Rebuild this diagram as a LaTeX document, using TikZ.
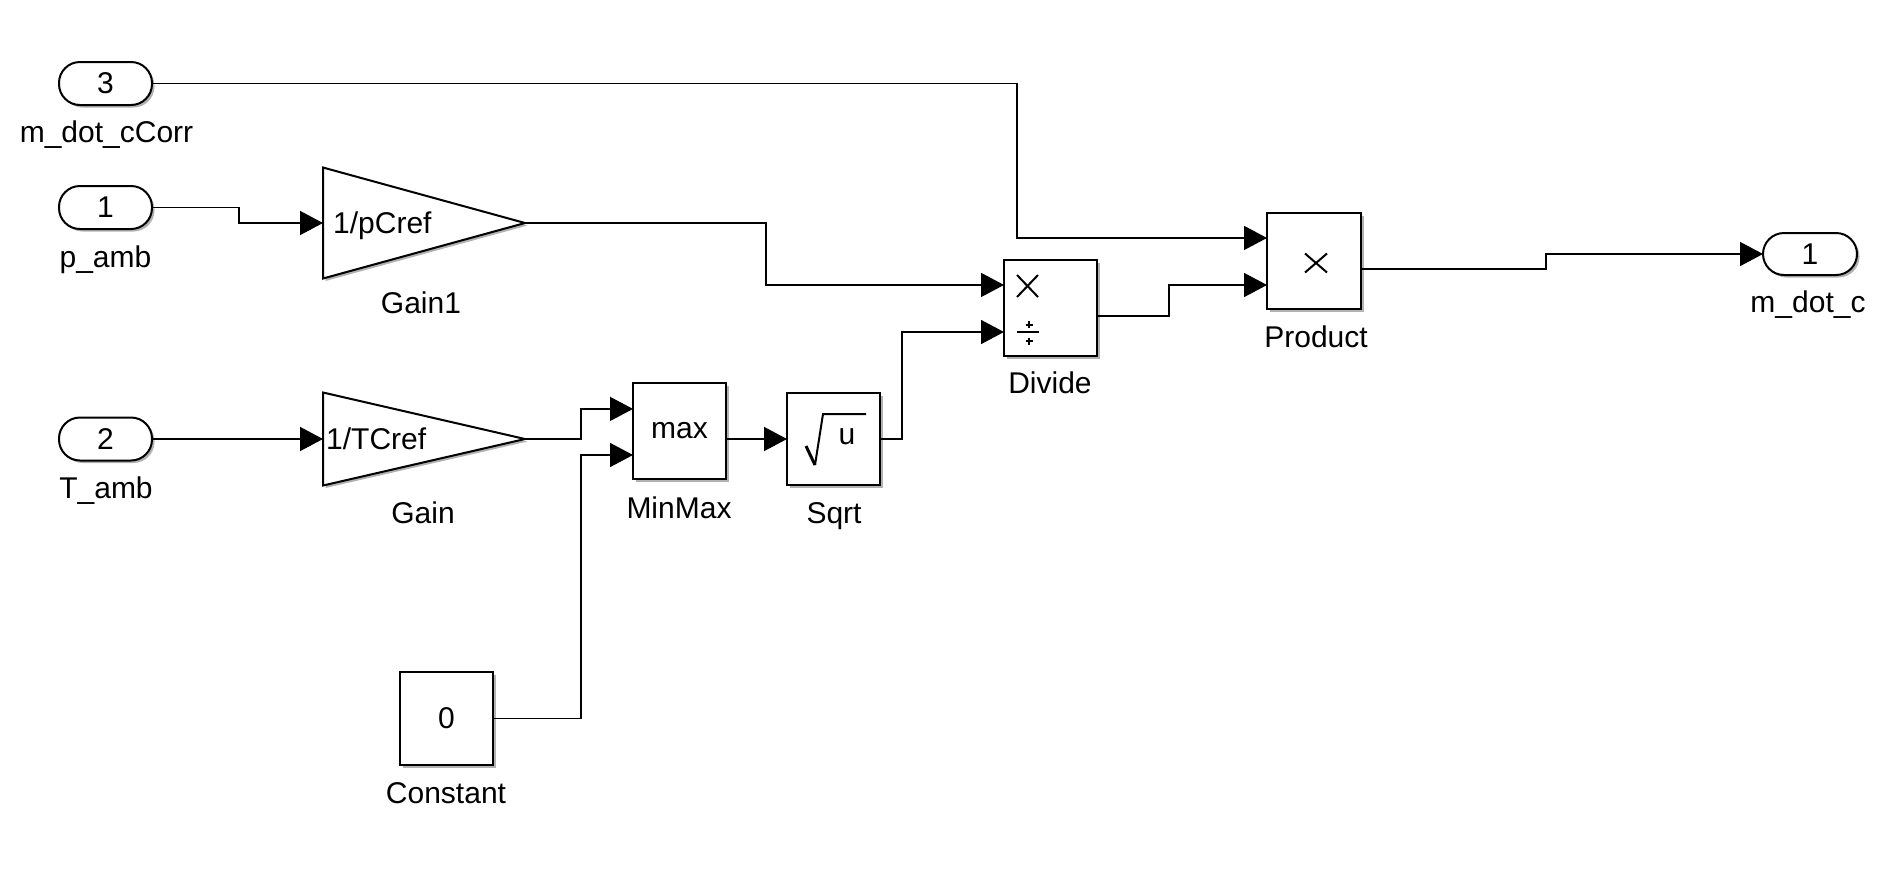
\documentclass[tikz,border=0pt]{standalone}
\usepackage{fontspec}
\setmainfont{Liberation Sans}
\usetikzlibrary{arrows.meta,shapes.geometric,shadows,calc}
\begin{document}
\begin{tikzpicture}[x=1pt,y=-1pt,
  font=\fontsize{30}{35}\selectfont,
  blk/.style={draw,line width=2pt,fill=white,inner sep=0pt,outer sep=0pt,
    drop shadow={shadow xshift=2.5pt,shadow yshift=-2.5pt,opacity=0.3,fill=black}},
  port/.style={blk,rectangle,rounded corners=21pt,minimum width=93pt,minimum height=43pt},
  sq/.style 2 args={blk,rectangle,minimum width=#1,minimum height=#2},
  gainblk/.style={blk,isosceles triangle,isosceles triangle stretches,
    shape border rotate=0,minimum width=#1,minimum height=202pt,anchor=west},
  txt/.style={inner sep=0pt,anchor=base},
  wire/.style={line width=1.6pt},
  sig/.style={wire,-{Triangle[length=23pt,width=24pt]}},
  glyph/.style={line width=2pt},
]
% canvas
\fill[white] (0,0) rectangle (1886,879);
\useasboundingbox (0,0) rectangle (1886,879);

% ports
\node[port] (in3) at (105.5,83.5) {3};
\node[port] (in1) at (105.5,207.5) {1};
\node[port] (in2) at (105.5,439) {2};
\node[port,minimum width=94pt,minimum height=42pt] (out1) at (1810,254) {1};

% gains
\node[gainblk=111pt] (g1) at (323,223) {};
\node[gainblk=93pt] (g) at (323,439) {};
\node[txt,anchor=base west] (g1t) at (333,233) {1/pCref};
\node[txt,anchor=base west] (gt) at (326,449) {1/TCref};

% other blocks
\node[sq={93pt}{96pt}] (mm) at (679.5,431) {max};
\node[sq={93pt}{92pt}] (sqrt) at (833.5,439) {};
\node[sq={93pt}{96pt}] (div) at (1050.5,308) {};
\node[sq={94pt}{96pt}] (prod) at (1314,261) {};
\node[sq={93pt}{93pt}] (const) at (446.5,718.5) {0};

% block glyphs
\draw[line width=3pt] (806,446) -- (815,465);
\draw[glyph,line join=miter] (815,465) -- (823,414) -- (866,414);
\node[txt] (sqrtu) at (847,444.5) {u};
\draw[glyph] (1017,275) -- (1038,297) (1017,297) -- (1038,275);
\draw[line width=2.5pt] (1017,332) -- (1039,332);
\draw[glyph] (1025.5,324.5) -- (1032.5,324.5) (1029,321) -- (1029,328);
\draw[glyph] (1025.5,341) -- (1032.5,341) (1029,337.5) -- (1029,344.5);
\draw[glyph] (1305,253.5) -- (1327,272.5) (1305,272.5) -- (1327,253.5);

% block names
\node[txt] (l3) at (106.5,142) {m\_dot\_cCorr};
\node[txt] (l1) at (105.5,267) {p\_amb};
\node[txt] (l2) at (106,498) {T\_amb};
\node[txt] (lg1) at (421,313) {Gain1};
\node[txt] (lg) at (423,523) {Gain};
\node[txt] (lmm) at (679,518) {MinMax};
\node[txt] (lsq) at (834,523) {Sqrt};
\node[txt] (ldiv) at (1050,393) {Divide};
\node[txt] (lprod) at (1316,347) {Product};
\node[txt] (lconst) at (446,803) {Constant};
\node[txt] (lout) at (1808,312) {m\_dot\_c};

% input/output positions on the blocks
\coordinate (mmA) at ($(mm.north west)!0.27!(mm.south west)$);
\coordinate (mmB) at ($(mm.north west)!0.75!(mm.south west)$);
\coordinate (divA) at ($(div.north west)!0.26!(div.south west)$);
\coordinate (divB) at ($(div.north west)!0.75!(div.south west)$);
\coordinate (divO) at ($(div.north east)!0.583!(div.south east)$);
\coordinate (prodA) at ($(prod.north west)!0.26!(prod.south west)$);
\coordinate (prodB) at ($(prod.north west)!0.75!(prod.south west)$);
\coordinate (prodO) at ($(prod.north east)!0.583!(prod.south east)$);

% bend points
\coordinate (j1) at (1017,160);
\coordinate (j2) at (239,215);
\coordinate (j3) at (766,250);
\coordinate (j4) at (581,420);
\coordinate (j5) at (581,600);
\coordinate (j6) at (902,380);
\coordinate (j7) at (1169,300);
\coordinate (j8) at (1546,260);

% signals
\draw[sig] (in3.east) -| (j1) |- (prodA);
\draw[sig] (in1.east) -| (j2) |- (g1.west);
\draw[sig] (g1.apex) -| (j3) |- (divA);
\draw[sig] (in2.east) -- (g.west);
\draw[sig] (g.apex) -| (j4) |- (mmA);
\draw[sig] (const.east) -| (j5) |- (mmB);
\draw[sig] (mm.east |- sqrt.west) -- (sqrt.west);
\draw[sig] (sqrt.east) -| (j6) |- (divB);
\draw[sig] (divO) -| (j7) |- (prodB);
\draw[sig] (prodO) -| (j8) |- (out1.west);
\end{tikzpicture}
\end{document}
